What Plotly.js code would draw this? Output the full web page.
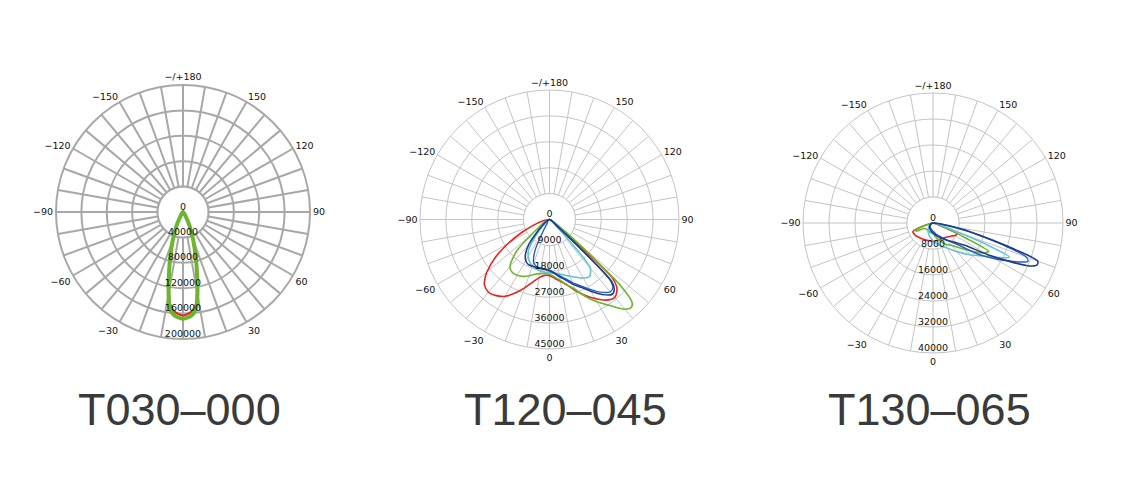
<!DOCTYPE html>
<html>
<head>
<meta charset="utf-8">
<script src="https://cdn.plot.ly/plotly-3.0.1.min.js"></script>
<style>html,body{margin:0;padding:0;background:#fff;}#chart{width:1125px;height:479px;}</style>
</head>
<body>
<div id="chart"></div>
<script>
// ---------- Data ----------
const titles = ["T030\u2013000", "T120\u2013045", "T130\u2013065"];

// angular axis
const angleTickVals = [0,30,60,90,120,150,180,210,240,270,300,330];
const angleTickText = ["0","30","60","90","120","150","\u2212/+180","\u2212150","\u2212120","\u221290","\u221260","\u221230"];

// radial rings per chart
const rings1 = [40000, 80000, 120000, 160000, 200000];
const rings2 = [9000, 18000, 27000, 36000, 45000];
const rings3 = [8000, 16000, 24000, 32000, 40000];

// Chart 1 : T030-000
const angles1 = [-90,-60,-45,-35,-30,-25,-20,-15,-12,-10,-8,-5,0,5,8,10,12,15,20,25,30,35,45,60,90];
const c1Red   = [0,0,800,3500,9000,23000,45000,77000,104000,126000,146000,157000,163000,157000,146000,126000,104000,77000,45000,23000,9000,3500,800,0,0];
const c1Green = [0,0,1000,4000,10000,25000,47000,80000,108000,131000,151000,163000,168000,163000,151000,131000,108000,80000,47000,25000,10000,4000,1000,0,0];

// Chart 2 : T120-045
const angles2 = [-90,-80,-70,-65,-60,-55,-50,-47,-45,-40,-35,-30,-25,-20,-15,-10,-5,0,5,10,15,20,25,30,35,40,43,45,47,48.5,50,52,55,60,70,80,90];
const c2Red   = [0,2000,6000,10500,16500,23000,28400,30800,32000,33000,32300,30800,28200,25300,22500,20500,19500,19500,20500,21800,23600,26300,29000,31700,34200,35300,34300,33000,30000,18000,6000,2500,1500,800,300,0,0];
const c2Green = [0,500,1000,1500,2500,4000,8500,14500,17000,21400,22500,22400,21800,20800,19700,19100,18800,19000,20000,21500,23500,25800,29500,33000,36500,40700,41700,40500,34000,22000,14000,8000,4000,1500,500,0,0];
const c2Navy  = [0,0,500,800,1200,2000,3000,4500,6000,11000,14500,16500,17300,17300,17200,17300,17400,17800,18800,20200,21800,24000,26000,28800,31800,33900,33000,30600,14000,5000,3000,2000,1500,800,300,0,0];
const c2Blue  = [0,0,300,500,700,900,1000,1000,1000,1000,1000,3000,12000,16000,17000,17200,17300,17600,18500,19800,21300,23300,25400,28000,30800,32800,32300,30000,13000,5000,3000,2000,1200,600,200,0,0];
const c2Cyan  = [0,0,300,450,600,1000,1500,2500,4000,7500,12500,14800,16300,17200,17800,18200,18400,18500,18700,19200,20000,21000,22200,23500,24200,22000,10000,4000,2500,2000,1500,1000,700,400,200,0,0];

// Chart 3 : T130-065
const angles3 = [-90,-80,-75,-70,-67,-64,-60,-55,-45,-30,-15,0,15,30,40,50,55,60,63,66,68,70,72,74,77,80,85,90];
const c3Red   = [0,500,2000,5500,6700,6800,6700,6600,6200,5800,5600,5600,5500,5500,5800,6500,7000,7700,8000,8100,4000,2000,1200,800,500,300,100,0];
const c3Green = [0,500,1500,4500,6000,5500,3500,3000,2800,2800,3000,3300,5000,7500,9000,12500,15500,18300,19200,9000,5000,3000,2000,1200,700,400,100,0];
const c3Navy  = [0,0,300,500,700,800,1000,1200,1500,2000,2500,3000,4000,5500,7000,9500,12000,19500,25500,32500,34500,34300,27000,19000,11500,5000,1500,0];
const c3Blue  = [0,0,200,400,500,600,700,900,1200,1600,2000,2500,3500,5000,7000,11000,16500,22000,25500,29500,31500,30500,24500,17500,10000,4500,1200,0];
const c3Cyan  = [0,0,200,500,700,900,1200,1500,2000,3000,4200,5500,7000,9000,11500,15300,17500,20800,23500,25800,18000,8000,4500,2800,1500,800,200,0];

const colors = {red:"#e8231f", green:"#6cb52f", navy:"#1c3c8c", blue:"#2a5cc8", cyan:"#64c4d6"};

// ---------- Build ----------
const charts = [
  {rings: rings1, angles: angles1, series: [["red", c1Red, 2], ["green", c1Green, 4]],
   domX:[56/1125, 310/1125], domY:[(479-339)/479, (479-85)/479], grid:"#a8a8a8", gw:2, hideZero:true, titleX:179.5},
  {rings: rings2, angles: angles2, series: [["red", c2Red, 1.6], ["green", c2Green, 1.6], ["cyan", c2Cyan, 1.6], ["blue", c2Blue, 1.4], ["navy", c2Navy, 1.6]],
   domX:[420/1125, 679/1125], domY:[(479-349)/479, (479-90)/479], grid:"#c4c4c4", gw:1, hideZero:false, titleX:565},
  {rings: rings3, angles: angles3, series: [["red", c3Red, 1.6], ["green", c3Green, 1.6], ["cyan", c3Cyan, 1.6], ["blue", c3Blue, 1.4], ["navy", c3Navy, 1.6]],
   domX:[803/1125, 1063/1125], domY:[(479-353)/479, (479-93)/479], grid:"#c4c4c4", gw:1, hideZero:false, titleX:929}
];

const data = [];
const layout = {
  width:1125, height:479, margin:{l:0,r:0,t:0,b:0},
  paper_bgcolor:"#fff", showlegend:false,
  font:{family:"DejaVu Sans, Verdana, sans-serif", size:9, color:"#111"},
  annotations:[]
};

const circleTheta = [];
for (let a = 0; a <= 360; a += 3) circleTheta.push(a);

charts.forEach((c, i) => {
  const pid = i === 0 ? "polar" : "polar" + (i + 1);
  const maxR = c.rings[c.rings.length - 1];
  const fullTickVals = [];
  const fullTickText = [];
  for (let a = 0; a < 360; a += 10) {
    fullTickVals.push(a);
    const k = angleTickVals.indexOf(a);
    let t = k >= 0 ? angleTickText[k] : "";
    if (a === 0 && c.hideZero) t = "";
    fullTickText.push(t);
  }
  layout[pid] = {
    domain:{x:c.domX, y:c.domY},
    bgcolor:"#fff",
    radialaxis:{range:[0, maxR], tickmode:"array", tickvals:c.rings, showticklabels:false, ticks:"",
      showline:false, gridcolor:c.grid, gridwidth:c.gw},
    angularaxis:{rotation:-90, direction:"counterclockwise", tickmode:"array", tickvals:fullTickVals,
      ticktext:fullTickText, ticks:"", showline:true, linecolor:c.grid, linewidth:c.gw,
      gridcolor:c.grid, gridwidth:c.gw, tickfont:{size:9.5, color:"#111"}}
  };
  // inner white disc (hides spokes inside first ring)
  data.push({type:"scatterpolar", subplot:pid, mode:"lines", r:circleTheta.map(() => c.rings[0]), theta:circleTheta,
    fill:"toself", fillcolor:"#fff", line:{color:c.grid, width:c.gw}, hoverinfo:"skip"});
  c.series.forEach(s => {
    data.push({type:"scatterpolar", subplot:pid, mode:"lines", r:s[1], theta:c.angles,
      line:{color:colors[s[0]], width:s[2], shape:"spline", smoothing:0.8}, hoverinfo:"skip"});
  });
  // radial labels
  const labR = [0].concat(c.rings);
  data.push({type:"scatterpolar", subplot:pid, mode:"text", r:labR, theta:labR.map(() => 0),
    text:labR.map(v => String(v)), textposition:"top center", textfont:{size:9.5, color:"#111"},
    cliponaxis:false, hoverinfo:"skip"});
  layout.annotations.push({xref:"paper", yref:"paper", x:c.titleX/1125, y:(479-409)/479,
    xanchor:"center", yanchor:"middle", showarrow:false, text:titles[i],
    font:{family:"Liberation Sans, Arial, Helvetica, sans-serif", size:45, color:"#3a3a3a"}});
});

Plotly.newPlot("chart", data, layout, {staticPlot:true, displayModeBar:false});
</script>
</body>
</html>
